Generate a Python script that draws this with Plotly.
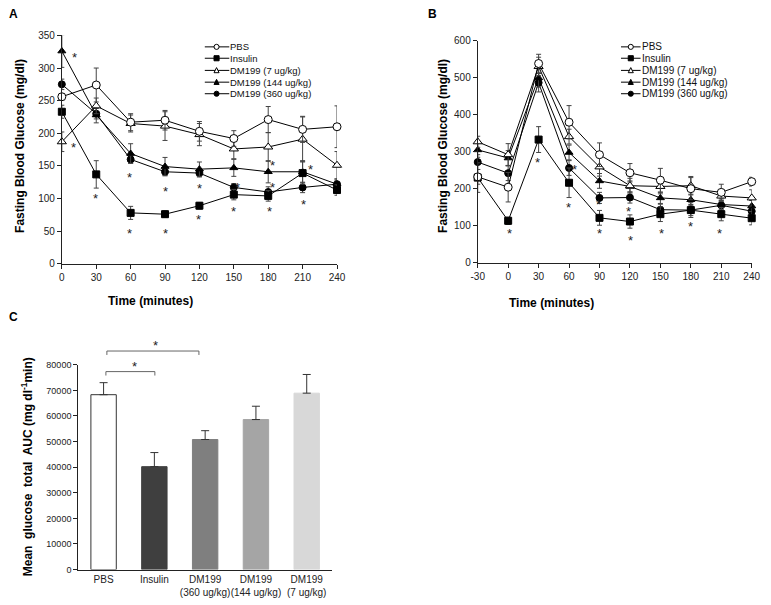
import plotly.graph_objects as go

W, H = 771, 605
FONT = "Liberation Sans, Arial, sans-serif"

# ---------------- Data ----------------
# Panel A
time_a = [0, 30, 60, 90, 120, 150, 180, 210, 240]
a_pbs = [256, 274, 217, 220, 203, 192, 221, 206, 210]
a_pbs_err = [5, 26, 13, 15, 15, 12, 20, 20, 32]
a_ins = [233, 137, 78, 76, 89, 106, 104, 139, 113]
a_ins_err = [10, 21, 10, 5, 5, 8, 8, 17, 8]
a_dm7 = [187, 242, 215, 211, 198, 176, 179, 191, 151]
a_dm7_err = [15, 12, 13, 22, 17, 15, 22, 34, 21]
a_dm144 = [326, 228, 169, 149, 145, 147, 141, 141, 122]
a_dm144_err = [25, 12, 15, 14, 11, 13, 17, 17, 8]
a_dm360 = [275, 230, 160, 141, 139, 117, 110, 117, 122]
a_dm360_err = [8, 8, 6, 6, 6, 6, 8, 8, 6]
a_star_t = [11, 10, 29, 59, 59, 90, 90, 120, 119, 150, 153, 184, 184, 181, 217, 211, 249]
a_star_v = [321, 183, 105, 137, 51, 116, 51, 120, 73, 84, 122, 155, 122, 84, 149, 95, 117]

# Panel B
time_b = [-30, 0, 30, 60, 90, 120, 150, 180, 210, 240]
b_pbs = [232, 204, 539, 380, 292, 243, 223, 200, 190, 219]
b_pbs_err = [20, 40, 25, 45, 32, 25, 32, 30, 22, 12]
b_ins = [230, 113, 333, 216, 121, 111, 131, 142, 131, 120]
b_ins_err = [40, 10, 35, 40, 20, 18, 20, 20, 18, 18]
b_dm7 = [327, 292, 531, 341, 259, 208, 206, 208, 180, 175]
b_dm7_err = [15, 30, 25, 20, 25, 20, 20, 25, 15, 22]
b_dm144 = [305, 283, 500, 298, 221, 206, 175, 170, 157, 153]
b_dm144_err = [20, 20, 25, 20, 20, 15, 15, 15, 15, 15]
b_dm360 = [272, 242, 487, 256, 175, 176, 143, 142, 155, 139]
b_dm360_err = [20, 20, 25, 20, 15, 15, 15, 15, 12, 12]
b_star_t = [1, 29, 65, 59, 89, 90, 119, 121, 151, 180, 208, 245]
b_star_v = [86, 279, 259, 157, 164, 87, 146, 69, 87, 106, 87, 127]

# Panel C
c_groups = ["PBS", "Insulin", "DM199<br>(360 ug/kg)", "DM199<br>(144 ug/kg)", "DM199<br>(7 ug/kg)"]
c_auc = [68300, 40200, 50800, 58600, 68900]
c_auc_err = [4700, 5500, 3450, 5200, 7300]
c_colors = ["#ffffff", "#3f3f3f", "#7f7f7f", "#a5a5a5", "#d8d8d8"]
c_edges = ["#333333", "#3f3f3f", "#7f7f7f", "#a5a5a5", "#d8d8d8"]

series_names = ["PBS", "Insulin", "DM199 (7 ug/kg)", "DM199 (144 ug/kg)", "DM199 (360 ug/kg)"]

# ---------------- Helpers ----------------
def px(x):
    return x / W

def py(y):
    return 1 - y / H

STYLES = {
    "PBS": dict(symbol="circle", color="white", size=8),
    "Insulin": dict(symbol="square", color="black", size=7),
    "DM199 (7 ug/kg)": dict(symbol="triangle-up", color="white", size=8),
    "DM199 (144 ug/kg)": dict(symbol="triangle-up", color="black", size=7),
    "DM199 (360 ug/kg)": dict(symbol="circle", color="black", size=7),
}

fig = go.Figure()

def add_series(xs, ys, errs, name, xa, ya):
    st = STYLES[name]
    fig.add_trace(go.Scatter(
        x=xs, y=ys, mode="lines+markers", name=name, showlegend=False,
        xaxis=xa, yaxis=ya, cliponaxis=False,
        line=dict(color="black", width=1),
        marker=dict(symbol=st["symbol"], size=st["size"], color=st["color"],
                    line=dict(color="black", width=1)),
        error_y=dict(type="data", array=errs, visible=True, color="#444",
                     thickness=1, width=2.5),
    ))

order_a = [("DM199 (360 ug/kg)", a_dm360, a_dm360_err), ("DM199 (144 ug/kg)", a_dm144, a_dm144_err),
           ("Insulin", a_ins, a_ins_err), ("DM199 (7 ug/kg)", a_dm7, a_dm7_err), ("PBS", a_pbs, a_pbs_err)]
for name, ys, errs in order_a:
    add_series(time_a, ys, errs, name, "x", "y")

order_b = [("DM199 (360 ug/kg)", b_dm360, b_dm360_err), ("DM199 (144 ug/kg)", b_dm144, b_dm144_err),
           ("Insulin", b_ins, b_ins_err), ("DM199 (7 ug/kg)", b_dm7, b_dm7_err), ("PBS", b_pbs, b_pbs_err)]
for name, ys, errs in order_b:
    add_series(time_b, ys, errs, name, "x2", "y2")

fig.add_trace(go.Bar(
    x=c_groups, y=c_auc, xaxis="x3", yaxis="y3", width=0.5, showlegend=False,
    marker=dict(color=c_colors, line=dict(color=c_edges, width=1)),
    error_y=dict(type="data", symmetric=False, array=c_auc_err, arrayminus=[0] * 5,
                 color="#333", thickness=1, width=4),
))

annotations = []
shapes = []

# stars
for t, v in zip(a_star_t, a_star_v):
    annotations.append(dict(x=t, y=v, xref="x", yref="y", text="*", showarrow=False,
                            font=dict(family=FONT, size=13, color="#222"), yshift=-3))
for t, v in zip(b_star_t, b_star_v):
    annotations.append(dict(x=t, y=v, xref="x2", yref="y2", text="*", showarrow=False,
                            font=dict(family=FONT, size=13, color="#222"), yshift=-3))

# axis titles & panel labels
def txt(x, y, text, size=12, angle=0, xanchor="center", color="black"):
    annotations.append(dict(x=px(x), y=py(y), xref="paper", yref="paper", text=text,
                            showarrow=False, textangle=angle, xanchor=xanchor, yanchor="middle",
                            font=dict(family=FONT, size=size, color=color)))

txt(13, 143, "<b>Fasting Blood Glucose (mg/dl)</b>", angle=-90)
txt(147, 301, "<b>Time (minutes)</b>")
txt(445, 143, "<b>Fasting Blood Glucose (mg/dl)</b>", angle=-90)
txt(556, 303, "<b>Time (minutes)</b>")
txt(20, 470, "<b>Mean&nbsp; glucose&nbsp; total&nbsp; AUC (mg dl<sup>-1</sup>min)</b>", angle=-90)
txt(7, 8, "<b>A</b>", size=12)
txt(435, 8, "<b>B</b>", size=12)
txt(7, 317, "<b>C</b>", size=12)

# legends (drawn manually)
def legend(x0, x1, xm, xt, rows, fsize):
    for name, yy in zip(series_names, rows):
        shapes.append(dict(type="line", xref="paper", yref="paper", x0=px(x0), x1=px(x1),
                           y0=py(yy), y1=py(yy), line=dict(color="black", width=1)))
        st = STYLES[name]
        r = 2.6
        if st["symbol"] == "circle":
            shapes.append(dict(type="circle", xref="paper", yref="paper",
                               x0=px(xm - r), x1=px(xm + r), y0=py(yy + r), y1=py(yy - r),
                               fillcolor=st["color"], line=dict(color="black", width=1)))
        elif st["symbol"] == "square":
            shapes.append(dict(type="rect", xref="paper", yref="paper",
                               x0=px(xm - r), x1=px(xm + r), y0=py(yy + r), y1=py(yy - r),
                               fillcolor=st["color"], line=dict(color="black", width=1)))
        else:
            path = "M {},{} L {},{} L {},{} Z".format(px(xm - r), py(yy + r * 0.9), px(xm + r), py(yy + r * 0.9),
                                                      px(xm), py(yy - r * 1.1))
            shapes.append(dict(type="path", xref="paper", yref="paper", path=path,
                               fillcolor=st["color"], line=dict(color="black", width=1)))
        annotations.append(dict(x=px(xt), y=py(yy), xref="paper", yref="paper", text=name,
                                showarrow=False, xanchor="left", yanchor="middle",
                                font=dict(family=FONT, size=fsize, color="#111")))

rows = [41.7, 53.3, 65.7, 77.7, 89.5]
legend(202, 227, 214, 226, rows, 9.5)
legend(627, 647, 637, 646, rows, 10)

# significance brackets in panel C
def bracket(xa, xb, yy, drop, sx, sy):
    shapes.append(dict(type="path", xref="paper", yref="paper",
                       path="M {},{} L {},{} L {},{} L {},{}".format(px(xa), py(yy + drop), px(xa), py(yy),
                                                                      px(xb), py(yy), px(xb), py(yy + drop)),
                       line=dict(color="#666", width=1)))
    annotations.append(dict(x=px(sx), y=py(sy), xref="paper", yref="paper", text="*",
                            showarrow=False, font=dict(family=FONT, size=13, color="#222"), yshift=-3))

bracket(101, 151, 373, 4, 126, 365)
bracket(102, 196, 352, 4, 147, 343)

axis_common = dict(showline=True, linecolor="#222", linewidth=1, ticks="outside", ticklen=4,
                   tickcolor="#222", showgrid=False, zeroline=False,
                   tickfont=dict(family=FONT, size=10, color="#222"))

fig.update_layout(
    width=W, height=H, margin=dict(l=0, r=0, t=0, b=0),
    paper_bgcolor="white", plot_bgcolor="white", showlegend=False,
    font=dict(family=FONT),
    xaxis=dict(domain=[px(56), px(337)], range=[0, 240], tickmode="array", tickvals=time_a,
               ticktext=[str(t) for t in time_a], anchor="y", **axis_common),
    yaxis=dict(domain=[py(263), py(30)], range=[0, 350], dtick=50, tick0=0, anchor="x", **axis_common),
    xaxis2=dict(domain=[px(480.7), px(760.5)], range=[-30, 240], tickmode="array", tickvals=time_b,
                ticktext=[str(t) for t in time_b], anchor="y2", **axis_common),
    yaxis2=dict(domain=[py(261.7), py(35.7)], range=[0, 600], dtick=100, tick0=0, anchor="x2", **axis_common),
    xaxis3=dict(domain=[px(72.7), px(332)], range=[-0.5, 4.5], anchor="y3", type="category",
                tickangle=0, showline=True, linecolor="#222", linewidth=1, ticks="", showgrid=False,
                zeroline=False, tickfont=dict(family=FONT, size=10, color="#222")),
    yaxis3=dict(domain=[py(575), py(366)], range=[0, 80000], dtick=10000, tick0=0, anchor="x3",
                showline=True, linecolor="#222", linewidth=1, ticks="outside", ticklen=4, tickcolor="#222",
                showgrid=False, zeroline=False, tickformat="d",
                tickfont=dict(family=FONT, size=9, color="#222")),
    annotations=annotations,
    shapes=shapes,
)

fig.write_html("out.html", config={"displayModeBar": False},
               post_script="document.body.style.margin='0px';")
